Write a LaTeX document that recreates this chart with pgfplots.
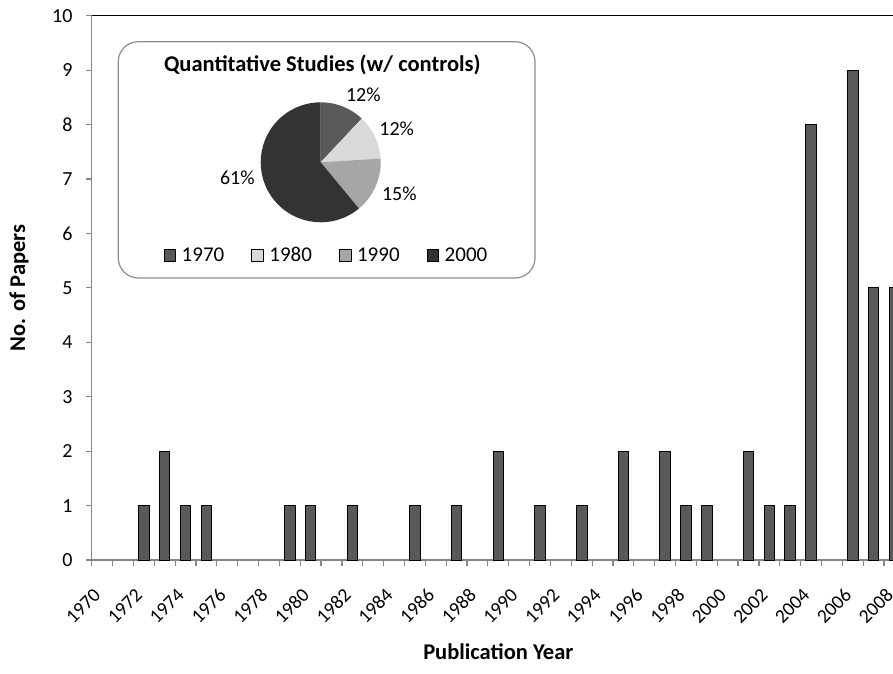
\documentclass[border=0pt]{standalone}
\usepackage{pgfplots}
\usepackage{pgfplotstable}
\pgfplotsset{compat=1.18}
\usepackage{fontspec}
\setmainfont{Carlito}

\definecolor{barfill}{RGB}{89,89,89}
\definecolor{axisgray}{RGB}{134,134,134}
\definecolor{boxgray}{RGB}{140,140,140}
\definecolor{s70}{RGB}{89,89,89}
\definecolor{s80}{RGB}{217,217,217}
\definecolor{s90}{RGB}{166,166,166}
\definecolor{s00}{RGB}{51,51,51}

\newcommand\fsn{\fontsize{20pt}{23pt}\selectfont}
\newcommand\fsx{\fontsize{19.5pt}{23pt}\selectfont}
\newcommand\fsl{\fontsize{21pt}{24pt}\selectfont}
\newcommand\fst{\fontsize{22.5pt}{26pt}\selectfont\bfseries}

\pgfplotstableread{
year n
1972 1
1973 2
1974 1
1975 1
1979 1
1980 1
1982 1
1985 1
1987 1
1989 2
1991 1
1993 1
1995 2
1997 2
1998 1
1999 1
2001 2
2002 1
2003 1
2004 8
2006 9
2007 5
2008 5
}\bardata

\begin{document}
\begin{tikzpicture}
\useasboundingbox (-91.7pt,-113pt) rectangle (801.3pt,560pt);
\clip (-91.7pt,-113pt) rectangle (801.3pt,560pt);
\begin{axis}[
  at={(0pt,0pt)}, anchor=south west,
  scale only axis, width=813.2pt, height=544.3pt,
  xmin=-0.5, xmax=38.5, ymin=0, ymax=10,
  axis x line*=bottom, axis y line*=left,
  axis line style={axisgray, line width=1.2pt},
  tick align=outside, major tick length=6pt,
  tick style={axisgray, line width=1.2pt},
  ytick={0,1,...,10},
  /pgf/number format/assume math mode=true,
  yticklabel style={font=\fsn, anchor=east, inner sep=1pt, xshift=-12pt},
  xtick={-0.5,0.5,...,38.5}, xticklabels={},
  extra x ticks={0,2,...,38},
  extra x tick labels={1970,1972,1974,1976,1978,1980,1982,1984,1986,1988,1990,1992,1994,1996,1998,2000,2002,2004,2006,2008},
  extra x tick style={major tick length=0pt},
  xticklabel style={font=\fsx, yshift=-31pt, xshift=-4pt, rotate=45, anchor=east, inner sep=1pt},
  xlabel={Publication Year},
  xlabel style={font=\fst, at={(axis description cs:0.5,0)}, anchor=center, yshift=-92pt},
  ylabel={No. of Papers},
  ylabel style={font=\fst, at={(axis description cs:-0.0894,0.5)}, anchor=center},
]
\addplot[ybar, bar width=10.6pt, fill=barfill, draw=black, line width=1pt]
  table[x expr=\thisrow{year}-1970, y=n]{\bardata};
\draw[black, line width=1.2pt] (rel axis cs:0,1) -- (rel axis cs:1,1);
\end{axis}

\draw[boxgray, fill=white, rounded corners=20pt, line width=1.2pt] (26.6pt,518.3pt) rectangle (443.3pt,282pt);

\begin{axis}[
  at={(229pt,397.7pt)}, anchor=center,
  hide axis, scale only axis, width=120pt, height=120pt,
  xmin=-1, xmax=1, ymin=-1, ymax=1, clip=false,
  legend columns=4,
  legend style={draw=none, fill=none, font=\fsl, at={(axis description cs:0.548,-0.2725)}, anchor=center,
    /tikz/every odd column/.append style={column sep=4pt},
    /tikz/every even column/.append style={column sep=25pt},
    legend cell align=left},
  legend image code/.code={\fill[#1] (0pt,-5.8pt) rectangle (11.7pt,5.8pt);},
]
\gdef\cumv{0}
\foreach \pp/\cc in {12/s70,12/s80,15/s90,61/s00} {
  \pgfmathsetmacro\aa{90-3.6*\cumv}
  \pgfmathsetmacro\bb{90-3.6*(\cumv+\pp)}
  \pgfmathsetmacro\ca{cos(\aa)}
  \pgfmathsetmacro\sa{sin(\aa)}
  \edef\temp{\noexpand\fill[\cc] (axis cs:0,0) -- (axis cs:\ca,\sa) arc[start angle=\aa, end angle=\bb, radius=60pt] -- cycle;}
  \temp
  \pgfmathsetmacro\nn{\cumv+\pp}
  \xdef\cumv{\nn}
}
\addlegendimage{fill=s70}\addlegendentry{1970}
\addlegendimage{fill=s80}\addlegendentry{1980}
\addlegendimage{fill=s90}\addlegendentry{1990}
\addlegendimage{fill=s00}\addlegendentry{2000}
\node[font=\fsn] at (axis cs:0.71,1.12) {12\%};
\node[font=\fsn] at (axis cs:1.267,0.567) {12\%};
\node[font=\fsn] at (axis cs:1.31,-0.517) {15\%};
\node[font=\fsn] at (axis cs:-1.39,-0.25) {61\%};
\node[font=\fst] at (axis cs:0.027,1.62) {Quantitative Studies (w/ controls)};
\end{axis}
\end{tikzpicture}
\end{document}
